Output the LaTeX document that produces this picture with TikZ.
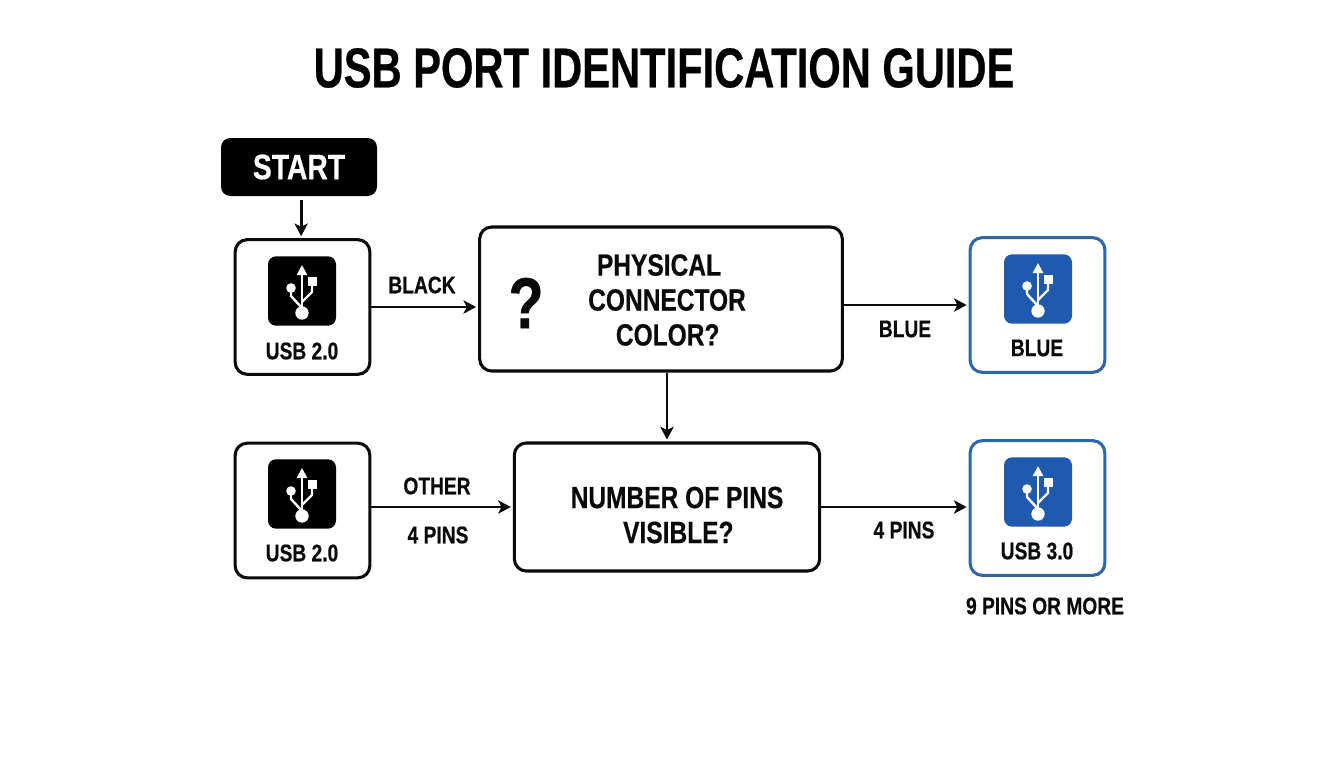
\documentclass[tikz,border=0pt]{standalone}
\usepackage{fontspec}
\setmainfont[FakeStretch=0.8,BoldFont={Liberation Sans Bold},BoldFeatures={FakeBold=0.5}]{Liberation Sans}
\usetikzlibrary{arrows.meta}
\definecolor{usbblue}{HTML}{1F5AAE}
\definecolor{usbedge}{HTML}{2F66A8}
\definecolor{inkblack}{HTML}{0A0A0A}
\newcommand{\fs}[2]{\fontsize{#1}{#2}\selectfont\bfseries}
\tikzset{
  x=0.75pt,y=-0.75pt,
  box/.style={draw=inkblack,line width=2.3pt,rounded corners=9pt,fill=white,inner sep=0pt},
  usbbox/.style={box,minimum width=101pt,minimum height=101pt},
  blueedge/.style={draw=usbedge},
  iconbox/.style={rounded corners=6pt,minimum width=51pt,minimum height=52pt,inner sep=0pt,fill=#1},
  arr/.style={draw=inkblack,line width=2.2pt,shorten >=1.5pt,-{Stealth[length=9.5pt,width=10pt,inset=2.5pt]}},
  lab/.style={text=inkblack,inner sep=0pt,font=\fs{18}{21}},
  qtext/.style={text=inkblack,inner sep=0pt,align=center,font=\fs{23}{26.2}},
  usbglyph/.pic={
    \draw[white,line width=1.8pt,-{Triangle[length=7.5pt,width=7.5pt]}] (0,22) -- (0,-26);
    \fill[white] (0,22) circle (5pt);
    \fill[white] (-11,-3) circle (3.6pt);
    \fill[white] (5.5,-14.5) rectangle (15,-5);
    \draw[white,line width=1.8pt,line join=round] (-11,-3) -- (-11,5) -- (0,17);
    \draw[white,line width=1.8pt,line join=round] (10,-5) -- (10,1) -- (0,11);
  }
}
\begin{document}
\begin{tikzpicture}
\useasboundingbox (0,0) rectangle (1344,768);
\fill[white] (0,0) rectangle (1344,768);
\node[text=black,inner sep=0pt,font=\fs{42}{48},xscale=0.93,transform shape] (title) at (664,68) {USB PORT IDENTIFICATION GUIDE};
% boxes
\node[fill=black,rounded corners=7pt,minimum width=117pt,minimum height=43.5pt,inner sep=0pt,text=white,font=\fs{26.5}{30}] (start) at (299,167) {START};
\node[usbbox] (usbA) at (302.5,307) {};
\node[box,minimum width=272pt,minimum height=108pt] (q1) at (661,299) {};
\node[usbbox,blueedge] (blue) at (1037.5,305) {};
\node[box,minimum width=229pt,minimum height=96pt] (q2) at (667,507) {};
\node[usbbox] (usbB) at (302.5,510.5) {};
\node[usbbox,blueedge] (usbC) at (1037.5,508) {};
% icons
\node[iconbox=black] (iconA) at (302,291) {};
\pic at (iconA) {usbglyph};
\node[iconbox=black] (iconB) at (302,494) {};
\pic at (iconB) {usbglyph};
\node[iconbox=usbblue] (iconC) at (1038,289) {};
\pic at (iconC) {usbglyph};
\node[iconbox=usbblue] (iconD) at (1038,492) {};
\pic at (iconD) {usbglyph};
% box texts
\node[lab] (tA) at (302,351) {USB 2.0};
\node[lab] (tB) at (302,553) {USB 2.0};
\node[lab] (tC) at (1037,348) {BLUE};
\node[lab] (tD) at (1037,551) {USB 3.0};
\node[text=inkblack,inner sep=0pt,font=\fs{54}{58}] (qm) at (526,303) {?};
\node[qtext] (qt1) at (667,300) {PHYSICAL\hspace*{12pt}\\CONNECTOR\\\hspace*{1pt}COLOR?};
\node[qtext] (qt2) at (677,515) {NUMBER OF PINS\\\hspace*{2pt}VISIBLE?};
% connectors
\coordinate (startOut) at ([yshift=-3pt]start.south);
\coordinate (startIn) at ([xshift=-1pt]usbA.north);
\draw[arr] (startOut -| startIn) -- (startIn);
\draw[arr] (usbA.east) -- (usbA.east -| q1.west);
\draw[arr] (blue.west -| q1.east) -- (blue.west);
\draw[arr] (q2.north |- q1.south) -- (q2.north);
\draw[arr] (q2.west -| usbB.east) -- (q2.west);
\draw[arr] (q2.east) -- (q2.east -| usbC.west);
% labels
\node[lab] (lBlack) at (422,285) {BLACK};
\node[lab] (lBlue) at (905,329) {BLUE};
\node[lab] (lOther) at (437,486) {OTHER};
\node[lab] (l4a) at (438,535) {4 PINS};
\node[lab] (l4b) at (904,530) {4 PINS};
\node[lab] (l9) at (1045,606) {9 PINS OR MORE};
\end{tikzpicture}
\end{document}
